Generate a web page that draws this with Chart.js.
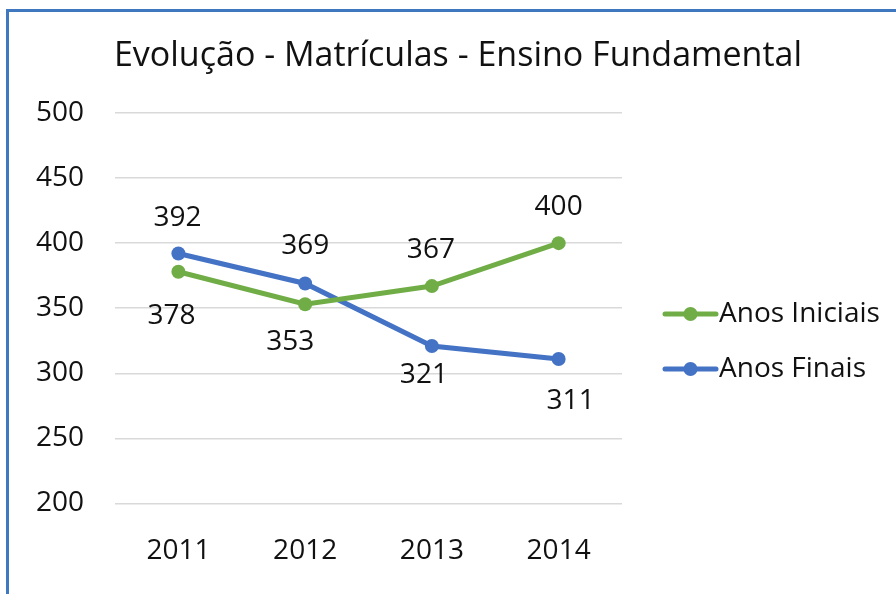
<!DOCTYPE html>
<html>
<head>
<meta charset="utf-8">
<script src="https://cdn.jsdelivr.net/npm/chart.js@4"></script>
<style>
  html, body { margin: 0; padding: 0; background: #fff; overflow: hidden; }
  #wrap { position: relative; width: 896px; height: 594px; }
  #frame {
    position: absolute; left: 6px; top: 9px; width: 1000px; height: 1000px;
    border: 3px solid #3f78bf; pointer-events: none;
  }
</style>
</head>
<body>
<div id="wrap">
  <canvas id="chart" width="896" height="594"></canvas>
  <div id="frame"></div>
</div>
<script>
const years = ["2011", "2012", "2013", "2014"];
const anosIniciais = [378, 353, 367, 400];
const anosFinais = [392, 369, 321, 311];
const yTicks = [200, 250, 300, 350, 400, 450, 500];
const titleText = "Evolução - Matrículas - Ensino Fundamental";

// label offsets (dx, dy) from each point, as placed in the original
const offIniciais = [[-7, 44], [-15, 38], [-1, -36], [0, -36]];
const offFinais = [[-1, -36], [0, -37], [-8, 29], [12, 42]];

const FONT = "'Open Sans', sans-serif";
const GREEN = "#70ad47";
const BLUE = "#4472c4";

const pointLabels = {
  id: "pointLabels",
  afterDatasetsDraw(chart) {
    const ctx = chart.ctx;
    ctx.save();
    ctx.font = "28px " + FONT;
    ctx.fillStyle = "#111";
    ctx.textAlign = "center";
    ctx.textBaseline = "middle";
    chart.data.datasets.forEach((ds, i) => {
      const meta = chart.getDatasetMeta(i);
      meta.data.forEach((pt, j) => {
        const off = ds.labelOffsets[j];
        ctx.fillText(String(ds.data[j]), pt.x + off[0], pt.y + off[1]);
      });
    });
    ctx.restore();
  }
};

// title centred over the whole frame, plus legend at the right
const extras = {
  id: "extras",
  afterDraw(chart) {
    const ctx = chart.ctx;
    ctx.save();
    ctx.fillStyle = "#111";
    ctx.textBaseline = "middle";
    ctx.textAlign = "center";
    ctx.font = "34px " + FONT;
    ctx.fillText(titleText, 458, 56);

    ctx.font = "28px " + FONT;
    ctx.textAlign = "left";
    chart.data.datasets.forEach((ds, i) => {
      const y = 314 + i * 55;
      ctx.strokeStyle = ds.borderColor;
      ctx.lineWidth = 5;
      ctx.lineCap = "round";
      ctx.beginPath();
      ctx.moveTo(665, y);
      ctx.lineTo(716, y);
      ctx.stroke();
      ctx.fillStyle = ds.borderColor;
      ctx.beginPath();
      ctx.arc(690.5, y, 7, 0, Math.PI * 2);
      ctx.fill();
      ctx.fillStyle = "#111";
      ctx.fillText(ds.label, 719, y);
    });
    ctx.restore();
  }
};

const ctx = document.getElementById("chart").getContext("2d");

new Chart(ctx, {
  type: "line",
  data: {
    labels: years,
    datasets: [
      {
        label: "Anos Iniciais",
        data: anosIniciais,
        labelOffsets: offIniciais,
        borderColor: GREEN,
        backgroundColor: GREEN,
        pointBackgroundColor: GREEN,
        borderWidth: 5,
        pointRadius: 7,
        pointBorderWidth: 0,
        tension: 0,
      },
      {
        label: "Anos Finais",
        data: anosFinais,
        labelOffsets: offFinais,
        borderColor: BLUE,
        backgroundColor: BLUE,
        pointBackgroundColor: BLUE,
        borderWidth: 5,
        pointRadius: 7,
        pointBorderWidth: 0,
        tension: 0,
      },
    ],
  },
  options: {
    responsive: false,
    animation: false,
    layout: { padding: { left: 5, right: 274, top: 113, bottom: -5 } },
    plugins: {
      legend: { display: false },
      tooltip: { enabled: false },
      title: { display: false },
    },
    scales: {
      x: {
        offset: true,
        grid: { display: false, drawTicks: false },
        border: { display: false },
        ticks: { color: "#111", font: { family: FONT, size: 28 }, padding: 31 },
      },
      y: {
        min: yTicks[0],
        max: yTicks[yTicks.length - 1],
        afterBuildTicks: (axis) => { axis.ticks = yTicks.map((v) => ({ value: v })); },
        grid: { color: "#d9d9d9", lineWidth: 1.5, drawTicks: false },
        border: { display: false },
        ticks: { color: "#111", font: { family: FONT, size: 28 }, padding: 31 },
      },
    },
  },
  plugins: [pointLabels, extras],
});
</script>
</body>
</html>
